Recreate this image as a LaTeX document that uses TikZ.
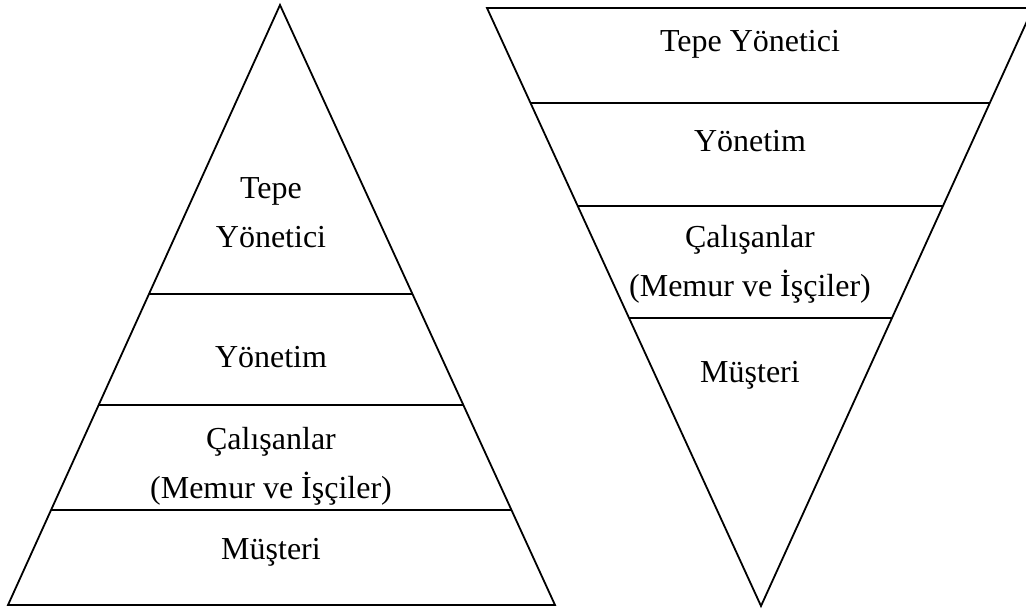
\documentclass[tikz,border=0pt]{standalone}
\usepackage{fontspec}
\setmainfont{Liberation Serif}
\usetikzlibrary{calc}

\begin{document}
\begin{tikzpicture}[x=1pt, y=-1pt,
  edge/.style={line width=1.8pt, line join=miter},
  tier/.style={line width=1.6pt},
  label/.style={anchor=base, inner sep=0pt, align=center,
    font=\fontsize{32}{49}\selectfont}]
  \clip (0,0) rectangle (1026,610);

  % classic pyramid
  \coordinate (pA) at (280,5);
  \coordinate (pL) at (8,605);
  \coordinate (pR) at (555,605);
  \draw[edge] (pA) -- (pL) -- (pR) -- cycle;
  \draw[tier] ($(pA)!0.4817!(pL)$) -- ($(pA)!0.4817!(pR)$);
  \draw[tier] ($(pA)!0.6667!(pL)$) -- ($(pA)!0.6667!(pR)$);
  \draw[tier] ($(pA)!0.8417!(pL)$) -- ($(pA)!0.8417!(pR)$);

  % multi-line labels are placed by the baseline of their last line
  \node[label] (pTop)  at (271,247) {Tepe\\Yönetici};
  \node[label] (pMgmt) at (271,367) {Yönetim};
  \node[label] (pStaff) at (271,498) {Çalışanlar\\(Memur ve İşçiler)};
  \node[label] (pCust) at (271,559) {Müşteri};

  % inverted pyramid
  \coordinate (iL) at (487,8);
  \coordinate (iR) at (1033,8);
  \coordinate (iB) at (761,606);
  \draw[edge] (iL) -- (iR) -- (iB) -- cycle;
  \draw[tier] ($(iL)!0.1589!(iB)$) -- ($(iR)!0.1589!(iB)$);
  \draw[tier] ($(iL)!0.3311!(iB)$) -- ($(iR)!0.3311!(iB)$);
  \draw[tier] ($(iL)!0.5184!(iB)$) -- ($(iR)!0.5184!(iB)$);

  \node[label] (iTop)  at (750,52)  {Tepe Yönetici};
  \node[label] (iMgmt) at (750,151) {Yönetim};
  \node[label] (iStaff) at (750,296) {Çalışanlar\\(Memur ve İşçiler)};
  \node[label] (iCust) at (750,382) {Müşteri};
\end{tikzpicture}
\end{document}
